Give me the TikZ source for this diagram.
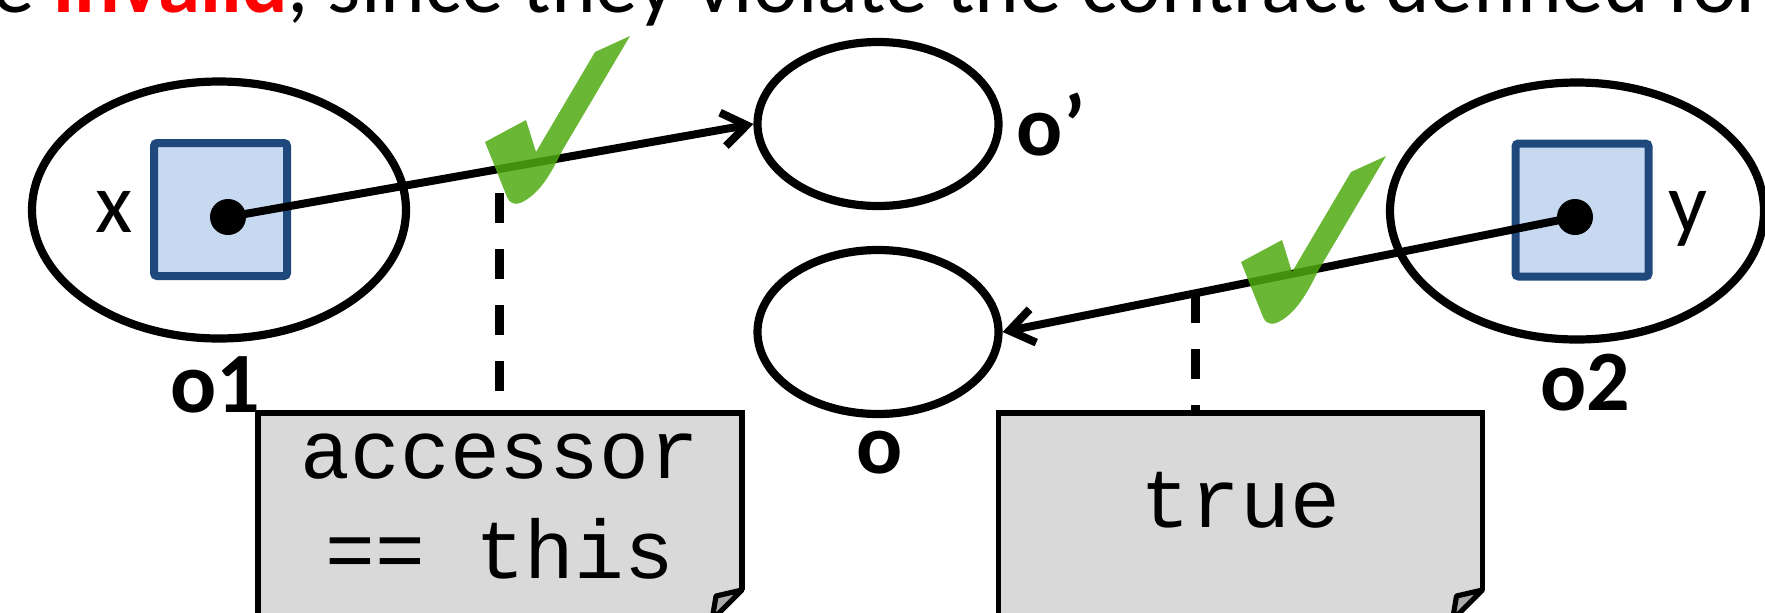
\documentclass[tikz,border=0pt]{standalone}
\usepackage{fontspec}
\setmainfont{Carlito}
\newfontfamily\codefont{Liberation Mono}
\usetikzlibrary{shapes.geometric,arrows.meta,calc}

\definecolor{fieldfill}{HTML}{C6D9F1}
\definecolor{fieldblue}{HTML}{1F497D}
\definecolor{notegray}{HTML}{D9D9D9}
\definecolor{foldgray}{HTML}{ABABAB}
\definecolor{tickgreen}{HTML}{4FAA10}

\tikzset{
	obj/.style={ellipse, draw, line width=4.1pt, inner sep=0pt},
	objbig/.style={obj, minimum width=187pt, minimum height=128.5pt},
	objsmall/.style={obj, minimum width=120.5pt, minimum height=82pt},
	field/.style={draw=fieldblue, fill=fieldfill, line width=4pt, rounded corners=1.5pt, minimum width=66.5pt, minimum height=66.5pt, inner sep=0pt},
	refdot/.style={circle, fill=black, minimum size=18pt, inner sep=0pt},
	lbl/.style={font=\fontsize{43}{52}\selectfont, inner sep=0pt, anchor=base},
	objname/.style={lbl, font=\fontsize{43}{52}\selectfont\bfseries},
	refarrow/.style={line width=4pt, -{Straight Barb[length=12pt, width=17pt]}},
	leader/.style={line width=4.5pt, dash pattern=on 15pt off 13pt},
	note/.style={draw, fill=notegray, line width=2.6pt, minimum width=242pt, minimum height=103.5pt, inner sep=0pt, outer sep=0pt},
	notetext/.style={font=\codefont\fontsize{41.5}{50}\selectfont, align=center, inner sep=0pt},
	okmark/.pic={
		\fill[tickgreen, fill opacity=0.85] (0,0) -- (-35,16) -- (-94,116) -- (-104,84) -- (-145,106) -- (-123,161)
			.. controls (-119,170) and (-112,169) .. (-104,164)
			.. controls (-90,155) and (-80,140) .. (-68,115) -- cycle;
	}
}

\begin{document}
\begin{tikzpicture}[x=0.5pt, y=-0.5pt]
	\useasboundingbox (0,0) rectangle (1765,612);
	\clip (0,0) rectangle (1765,612);
	
	% heading, only its lower part shows
	\node[anchor=base west, inner sep=0pt, font=\fontsize{42.5}{51}\selectfont] (head) at (-8,12)
		{e \textcolor{red}{\bfseries invalid}, since they violate the contract defined for};
	
	% objects
	\node[objbig] (o1) at (219,210) {};
	\node[objbig] (o2) at (1577,211) {};
	\node[objsmall] (op) at (878,124) {};
	\node[objsmall] (o) at (878,332) {};
	
	% fields x and y
	\node[field] (fx) at (220.5,209.5) {};
	\node[field] (fy) at (1582,210) {};
	\node[refdot] (dx) at (228,217) {};
	\node[refdot] (dy) at (1575,217) {};
	\node[lbl] (lx) at (114,232) {x};
	\node[lbl] (ly) at (1688,232) {y};
	
	\node[objname] (lo1) at (215,412) {o1};
	\node[objname] (lo2) at (1585,410) {o2};
	\node[objname] (lop) at (1051,155) {o’};
	\node[objname] (lo) at (880,473) {o};
	
	% references
	\draw[refarrow] (dx.center) -- (op.west);
	\draw[refarrow] (dy.center) -- (o.east);
	
	\coordinate (g1) at (499,193);
	\coordinate (g2) at ($(dy.center)!0.663!(o.east)$);
	\draw[leader] (g1) -- (g1 |- 0,413);
	\draw[leader] (g2) -- (g2 |- 0,413);
	
	% guard notes
	\node[note] (n1) at (500,516.5) {};
	\node[note] (n2) at (1240.5,516.5) {};
	\foreach \n in {n1,n2} {
		\fill[white] ([yshift=15pt]\n.south east) -- ([xshift=3pt,yshift=15pt]\n.south east)
			-- ([xshift=3pt,yshift=-3pt]\n.south east) -- ([xshift=-15pt,yshift=-3pt]\n.south east)
			-- ([xshift=-15pt]\n.south east) -- cycle;
		\filldraw[fill=foldgray, line width=2.6pt, line join=round] ([yshift=15pt]\n.south east)
			-- ([xshift=-13pt,yshift=12pt]\n.south east) -- ([xshift=-15pt]\n.south east) -- cycle;
	}
	\node[notetext] (t1) at (500,507) {accessor\\== this};
	\node[notetext, anchor=base] (t2) at (1240.5,527) {true};
	
	% ticks
	\pic at (630,36) {okmark};
	\pic at (1386,156) {okmark};
\end{tikzpicture}
\end{document}
